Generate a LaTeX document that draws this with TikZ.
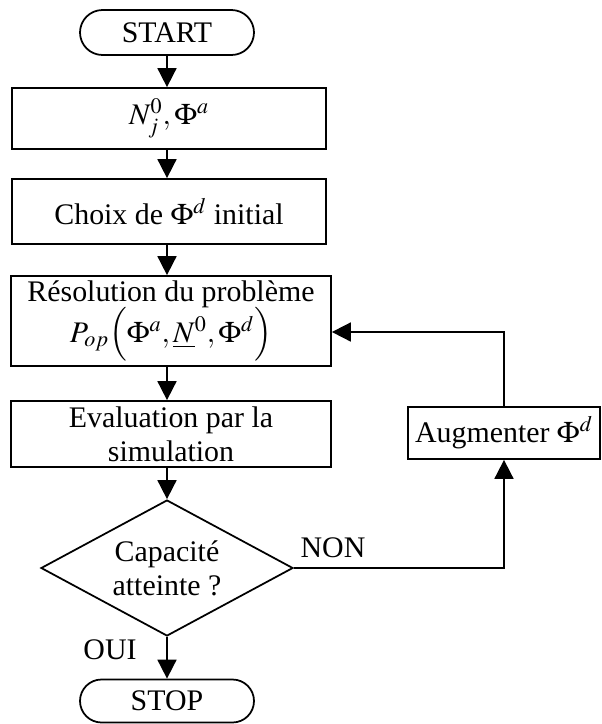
\documentclass[tikz,border=0pt]{standalone}
\usepackage{mathptmx}
\usepackage{fontspec}
\setmainfont{Liberation Serif}
\usepackage{tikz}
\usetikzlibrary{arrows.meta,positioning,shapes.geometric,shapes.misc}
\tikzset{
  >={Triangle[length=3.8mm,width=3.8mm]},
  term/.style    ={draw,rounded rectangle,line width=1pt,
                   minimum width=34.8mm,minimum height=9mm,inner sep=0pt},
  box/.style     ={draw,line width=1pt,align=center,inner sep=0pt},
  decision/.style={draw,diamond,line width=1pt,align=center,inner sep=0pt,
                   minimum width=50.4mm,minimum height=27.2mm,aspect=1.85},
  lbl/.style     ={inner sep=1pt},
  flow/.style    ={->,line width=1pt},
}

\begin{document}
\begin{tikzpicture}[x=1cm,y=1cm,font=\fontsize{17}{19.5}\selectfont]
\useasboundingbox (0,0) rectangle (12.04,-14.48);
%======================= main column ============================
\node[term] (start) at (3.34,-0.65) {START};
\node[box,minimum width=62.8mm,minimum height=12.2mm] (init) at (3.38,-2.37)
 {$N_j^0,\Phi^a$};
\node[box,minimum width=62.8mm,minimum height=13mm] (choix) at (3.38,-4.23)
 {Choix de $\Phi^d$ initial};
\node[box,minimum width=64mm,minimum height=18mm,inner ysep=2pt] (res) at (3.42,-6.42)
 {R\'esolution du probl\`eme\\[-1pt]
  $P_{op}\Bigl(\Phi^a,\underline{N}^0,\Phi^d\Bigr)$};
\node[box,minimum width=64mm,minimum height=13.2mm] (eval) at (3.42,-8.68)
 {Evaluation par la\\simulation};
\node[decision] (cap) at (3.34,-11.36) {Capacit\'e\\atteinte ?};
\node[term,minimum height=8.6mm] (stop) at (3.34,-14.02) {STOP};
\foreach \a/\b in {start/init,init/choix,choix/res,res/eval,eval/cap,cap/stop}
  \draw[flow] (\a.south-|start) -- (\b.north-|start);
%======================= loop ===================================
\node[box,minimum width=38.4mm,minimum height=10.4mm] (aug) at (10.08,-8.66)
 {Augmenter $\Phi^d$};
\draw[flow] (cap.east) -| (aug.south);
\draw[flow] (aug.north) |- ([yshift=-2.2mm]res.east);
\node[lbl] (non) at (6.66,-10.96) {NON};
\node[lbl] (oui) at (2.2,-13.0) {OUI};
\end{tikzpicture}
\end{document}
